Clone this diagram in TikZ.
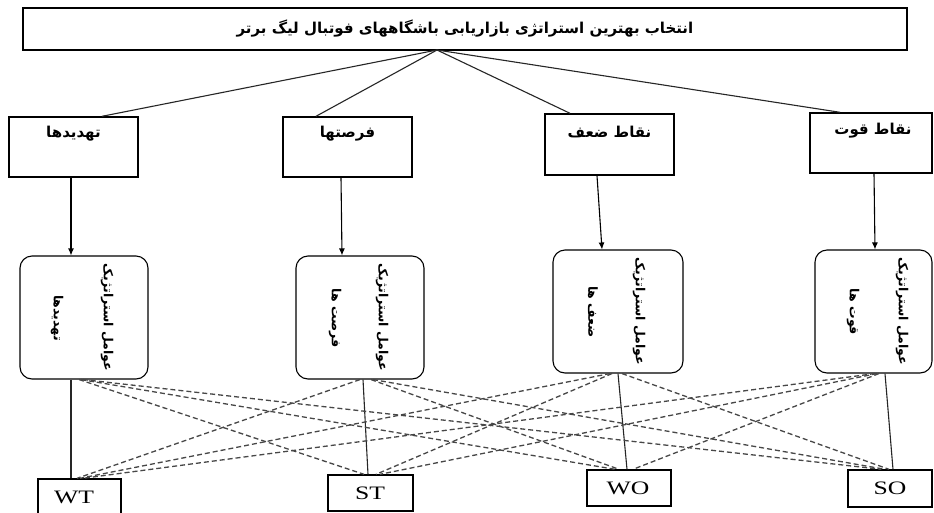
\documentclass[tikz,border=0pt]{standalone}
\usepackage{fontspec}
\setmainfont{Liberation Serif}
\newfontfamily\arabicfont[Script=Arabic]{DejaVu Sans}
\TeXXeTstate=1
\usetikzlibrary{calc,arrows.meta}
\begin{document}
\begin{tikzpicture}[x=1pt,y=-1pt,
  box/.style={draw, line width=1.4pt, inner sep=0pt},
  rbox/.style={draw, line width=1.1pt, rounded corners=12pt, inner sep=0pt},
  artext/.style={font=\arabicfont\bfseries\fontsize{15}{17}\selectfont, inner sep=0pt},
  rottext/.style={font=\arabicfont\bfseries\fontsize{12.5}{15}\selectfont, inner sep=0pt, rotate=-90},
  latext/.style={font=\fontsize{19}{22}\selectfont, xscale=1.35, inner sep=0pt},
  conn/.style={line width=1.1pt, draw=black!85},
  arr/.style={line width=1.1pt, -{Latex[length=7pt,width=6pt]}},
  dashln/.style={line width=1.3pt, draw=black!72, dash pattern=on 5pt off 3pt}]
\useasboundingbox (0,0) rectangle (934,512);
\fill[white] (0,0) rectangle (934,512);
% top
\node[box, minimum width=884, minimum height=42, artext] (top) at (465,29)
  {\beginR انتخاب بهترین استراتژی بازاریابی باشگاههای فوتبال لیگ برتر\endR};
\coordinate (apex) at (437,50);
% level 2 boxes
\node[box, minimum width=129, minimum height=60] (b1) at (73.5,147) {};
\node[box, minimum width=129, minimum height=60] (b2) at (347.5,147) {};
\node[box, minimum width=129, minimum height=61] (b3) at (609.5,144.5) {};
\node[box, minimum width=122, minimum height=60] (b4) at (871,143) {};
\node[artext] (b1t) at (73.5,134) {\beginR تهدیدها\endR};
\node[artext] (b2t) at (347.5,134) {\beginR فرصتها\endR};
\node[artext] (b3t) at (609.5,132) {\beginR نقاط ضعف\endR};
\node[artext] (b4t) at (873,131) {\beginR نقاط قوت\endR};
% rounded boxes
\node[rbox, minimum width=128, minimum height=123] (r1) at (84,317.5) {};
\node[rbox, minimum width=128, minimum height=123] (r2) at (360,317.5) {};
\node[rbox, minimum width=130, minimum height=123] (r3) at (618,311.5) {};
\node[rbox, minimum width=117, minimum height=123] (r4) at (873.5,311.5) {};
\node[rottext] (r1a) at (107,317) {\beginR عوامل استراتژیک\endR};
\node[rottext] (r1b) at (57,318) {\beginR تهدیدها\endR};
\node[rottext] (r2a) at (382,317) {\beginR عوامل استراتژیک\endR};
\node[rottext] (r2b) at (335,318) {\beginR فرصت ها\endR};
\node[rottext] (r3a) at (639,311) {\beginR عوامل استراتژیک\endR};
\node[rottext] (r3b) at (593,312) {\beginR ضعف ها\endR};
\node[rottext] (r4a) at (902,311) {\beginR عوامل استراتژیک\endR};
\node[rottext] (r4b) at (853,312) {\beginR قوت ها\endR};
% bottom boxes
\node[box, minimum width=83, minimum height=36] (wt) at (79.5,497) {};
\node[box, minimum width=85, minimum height=36] (st) at (370.5,493) {};
\node[box, minimum width=84, minimum height=36] (wo) at (629,488) {};
\node[box, minimum width=84, minimum height=37] (so) at (890,488.5) {};
\node[latext] (wtt) at (74,497) {WT};
\node[latext] (stt) at (370,493) {ST};
\node[latext] (wot) at (628,488) {WO};
\node[latext] (sot) at (890,488) {SO};
% top connectors
\draw[conn] (apex) -- (b1.north -| 102,0);
\draw[conn] (apex) -- (b2.north -| 316,0);
\draw[conn] (apex) -- (b3.north -| 570,0);
\draw[conn] (apex) -- (b4.north -| 840,0);
% arrows
\draw[arr] (b1.south -| 71,0) -- (r1.north -| 71,0);
\draw[arr] (b2.south -| 341,0) -- (r2.north -| 342,0);
\draw[arr] (b3.south -| 597,0) -- (r3.north -| 602,0);
\draw[arr] (b4.south -| 874,0) -- (r4.north -| 875,0);
% solid links
\coordinate (s1) at (r1.south -| 71,0);
\coordinate (s2) at (r2.south -| 363,0);
\coordinate (s3) at (r3.south -| 618,0);
\coordinate (s4) at (r4.south -| 885,0);
\coordinate (t1) at (wt.north -| 71,0);
\coordinate (t2) at (st.north -| 368,0);
\coordinate (t3) at (wo.north -| 627,0);
\coordinate (t4) at (so.north -| 893,0);
\draw[conn] (s1) -- (t1);
\draw[conn] (s2) -- (t2);
\draw[conn] (s3) -- (t3);
\draw[conn] (s4) -- (t4);
% dashed links
\draw[dashln] ($(s1)+(8,0)$) -- ($(t2)+(-4,0)$);
\draw[dashln] ($(s1)+(10,0)$) -- ($(t3)+(-12,0)$);
\draw[dashln] ($(s1)+(12,0)$) -- ($(t4)+(-12,0)$);
\draw[dashln] ($(s2)+(-3,0)$) -- ($(t1)+(6,0)$);
\draw[dashln] ($(s2)+(8,0)$) -- ($(t3)+(-8,0)$);
\draw[dashln] ($(s2)+(10,0)$) -- ($(t4)+(-8,0)$);
\draw[dashln] ($(s3)+(-8,0)$) -- ($(t1)+(9,0)$);
\draw[dashln] ($(s3)+(-6,0)$) -- ($(t2)+(8,0)$);
\draw[dashln] ($(s3)+(4,0)$) -- ($(t4)+(-4,0)$);
\draw[dashln] ($(s4)+(-10,0)$) -- ($(t1)+(12,0)$);
\draw[dashln] ($(s4)+(-8,0)$) -- ($(t2)+(12,0)$);
\draw[dashln] ($(s4)+(-6,0)$) -- ($(t3)+(6,0)$);
\end{tikzpicture}
\end{document}
